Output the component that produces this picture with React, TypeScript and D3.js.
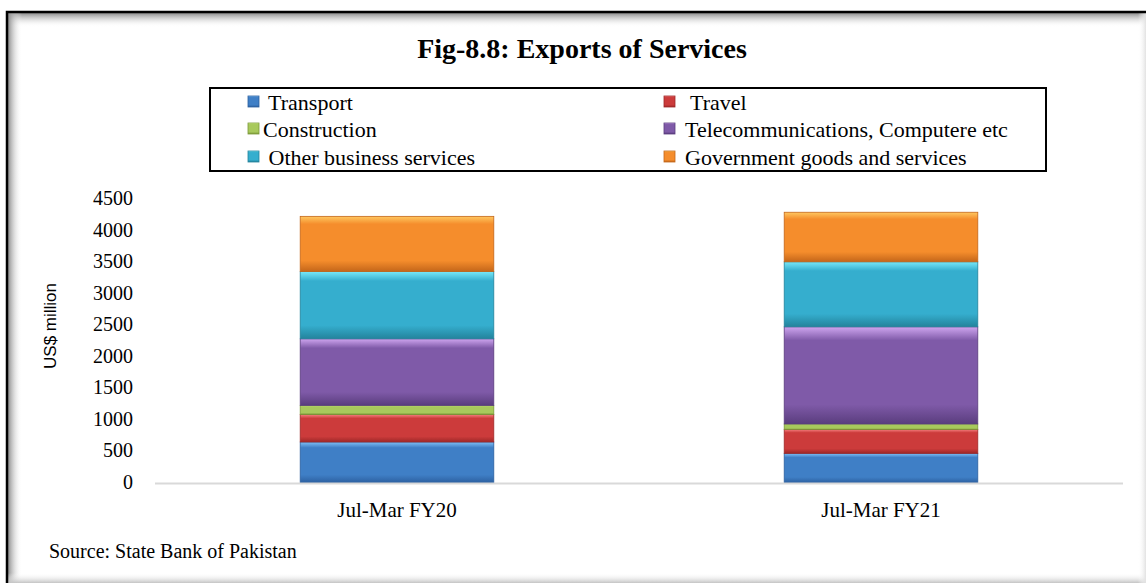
import React from "react";
import * as d3 from "d3";

const categories = ["Jul-Mar FY20", "Jul-Mar FY21"];
const seriesKeys = ["transport", "travel", "construction", "telecom", "other", "government"];
const legendLabels = [
  " Transport",
  "Construction",
  " Other business services",
  " Travel",
  "Telecommunications, Computere etc",
  "Government goods and services",
];
const legendOrder = ["transport", "construction", "other", "travel", "telecom", "government"];

const transport = [650, 470];
const travel = [435, 380];
const construction = [145, 85];
const telecom = [1055, 1540];
const otherBusiness = [1065, 1030];
const government = [875, 785];

const yTicks = [0, 500, 1000, 1500, 2000, 2500, 3000, 3500, 4000, 4500];

// top highlight, main, bottom shade
const palette: Record<string, [string, string, string]> = {
  transport: ["#80c0f6", "#3f7fc6", "#2c5f9f"],
  travel: ["#f68080", "#cc3b3b", "#9e2828"],
  construction: ["#defa94", "#a8c95c", "#7b9838"],
  telecom: ["#cfa6f0", "#7f5aa8", "#5a3d7e"],
  other: ["#78e8f8", "#35aece", "#23839c"],
  government: ["#ffc860", "#f58d2c", "#c4661a"],
};

const W = 1146;
const H = 583;
const serif = "'Liberation Serif', 'Times New Roman', serif";

export default function App() {
  const rows = categories.map((c, i) => ({
    category: c,
    transport: transport[i],
    travel: travel[i],
    construction: construction[i],
    telecom: telecom[i],
    other: otherBusiness[i],
    government: government[i],
  }));

  const stack = d3.stack<any>().keys(seriesKeys);
  const layers = stack(rows);

  const x = d3
    .scaleBand()
    .domain(categories)
    .range([155, 1123])
    .paddingInner(0.6)
    .paddingOuter(0.3);

  const y = d3.scaleLinear().domain([0, 4500]).range([483, 199]);

  const legendCols = [
    { marker: 248, text: 263 },
    { marker: 664, text: 685 },
  ];
  const legendRows = [102, 129, 157];

  return (
    <svg
      width={W}
      height={H}
      style={{ position: "absolute", left: 0, top: 0, display: "block", background: "#fff" }}
    >
      <defs>
        <linearGradient id="shTop" x1="0" y1="0" x2="0" y2="1">
          <stop offset="0%" stopColor="#8c8c8c" />
          <stop offset="100%" stopColor="#fff" stopOpacity={0} />
        </linearGradient>
        <linearGradient id="shLeft" x1="0" y1="0" x2="1" y2="0">
          <stop offset="0%" stopColor="#8c8c8c" />
          <stop offset="100%" stopColor="#fff" stopOpacity={0} />
        </linearGradient>
        <linearGradient id="shBottom" x1="0" y1="0" x2="0" y2="1">
          <stop offset="0%" stopColor="#fff" stopOpacity={0} />
          <stop offset="100%" stopColor="#c4c4c4" />
        </linearGradient>
        <linearGradient id="shRight" x1="0" y1="0" x2="1" y2="0">
          <stop offset="0%" stopColor="#fff" stopOpacity={0} />
          <stop offset="100%" stopColor="#e2e2e2" />
        </linearGradient>
        {seriesKeys.map((k) => (
          <linearGradient key={k} id={`g-${k}`} x1="0" y1="0" x2="0" y2="1">
            <stop offset="0%" stopColor={palette[k][0]} />
            <stop offset="14%" stopColor={palette[k][1]} />
            <stop offset="80%" stopColor={palette[k][1]} />
            <stop offset="100%" stopColor={palette[k][2]} />
          </linearGradient>
        ))}
      </defs>

      {/* outer frame with inner shadow */}
      <rect x={8} y={13} width={W} height={H} fill="url(#shTop)" style={{ display: "none" }} />
      <rect x={8} y={13} width={W - 8} height={14} fill="url(#shTop)" />
      <rect x={8} y={13} width={14} height={H - 13} fill="url(#shLeft)" />
      <rect x={8} y={H - 10} width={W - 8} height={10} fill="url(#shBottom)" />
      <rect x={W - 8} y={13} width={8} height={H - 13} fill="url(#shRight)" />
      <path d={`M7,${H} V12 H${W}`} fill="none" stroke="#000" strokeWidth={2.5} />

      <text
        x={582}
        y={58}
        textAnchor="middle"
        fontFamily={serif}
        fontWeight="bold"
        fontSize={28}
        fill="#000"
      >
        Fig-8.8: Exports of Services
      </text>

      {/* legend */}
      <rect x={210} y={88} width={836} height={83} fill="#fff" stroke="#000" strokeWidth={2} />
      {legendOrder.map((k, i) => {
        const col = legendCols[Math.floor(i / 3)];
        const cy = legendRows[i % 3];
        return (
          <g key={k}>
            <rect
              x={col.marker}
              y={cy - 6}
              width={11}
              height={11}
              fill={`url(#g-${k})`}
              stroke={palette[k][2]}
              strokeWidth={0.8}
            />
            <text
              x={col.text}
              y={cy}
              dominantBaseline="central"
              fontFamily={serif}
              fontSize={22}
              fill="#000"
              style={{ whiteSpace: "pre" }}
            >
              {legendLabels[i]}
            </text>
          </g>
        );
      })}

      {/* y axis labels */}
      {yTicks.map((t) => (
        <text
          key={t}
          x={133}
          y={y(t) - 1}
          textAnchor="end"
          dominantBaseline="central"
          fontFamily={serif}
          fontSize={20}
          fill="#000"
        >
          {t}
        </text>
      ))}
      <text
        transform={`translate(50,326) rotate(-90)`}
        textAnchor="middle"
        dominantBaseline="central"
        fontFamily="'Liberation Sans', Arial, sans-serif"
        fontSize={17}
        fill="#000"
      >
        US$ million
      </text>

      {/* bars */}
      {layers.map((layer) => (
        <g key={layer.key}>
          {layer.map((d, i) => {
            const x0 = x(categories[i]) as number;
            const top = y(d[1]);
            const h = y(d[0]) - y(d[1]);
            return (
              <rect
                key={i}
                x={x0}
                y={top}
                width={x.bandwidth()}
                height={h}
                fill={`url(#g-${layer.key})`}
                stroke={palette[layer.key][2]}
                strokeWidth={0.8}
              />
            );
          })}
        </g>
      ))}

      {/* x axis */}
      <line x1={155} x2={1123} y1={483.5} y2={483.5} stroke="#d9d9d9" strokeWidth={2} />
      {categories.map((c) => (
        <text
          key={c}
          x={(x(c) as number) + x.bandwidth() / 2}
          y={517}
          textAnchor="middle"
          fontFamily={serif}
          fontSize={21}
          fill="#000"
        >
          {c}
        </text>
      ))}

      <text x={49} y={558} fontFamily={serif} fontSize={20} fill="#000">
        Source: State Bank of Pakistan
      </text>
    </svg>
  );
}
